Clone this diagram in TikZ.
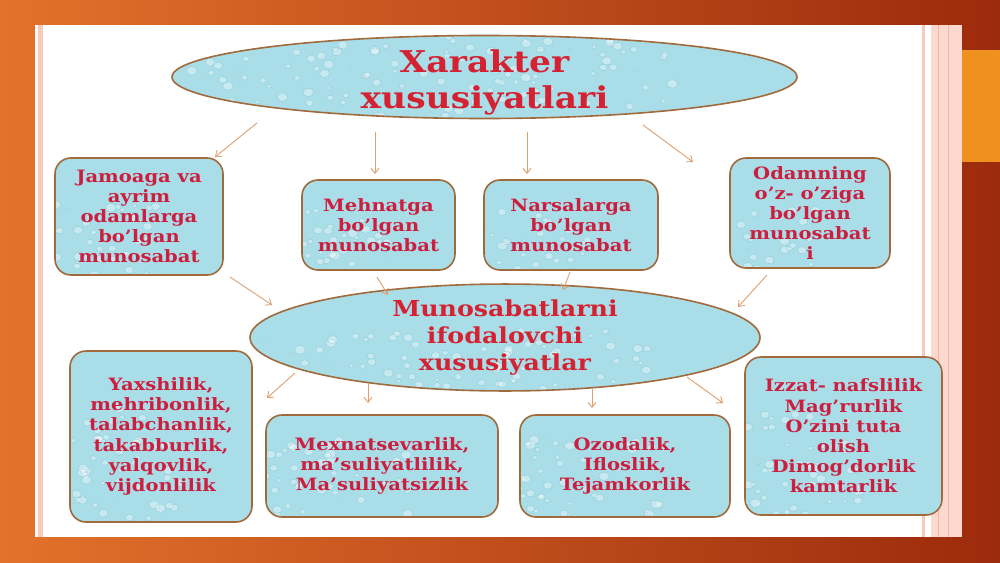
\documentclass[tikz,border=0pt]{standalone}
\usepackage{fontspec}
\setmainfont{DejaVu Serif}[UprightFont=* Bold, FakeStretch=1.15]
\usetikzlibrary{shapes.geometric,arrows.meta}
\definecolor{bgL}{HTML}{E3722C}
\definecolor{bgR}{HTML}{9C2A0C}
\definecolor{pinkA}{HTML}{F6CBBE}
\definecolor{pinkB}{HTML}{FBD9CE}
\definecolor{pinkC}{HTML}{F2B8A6}
\definecolor{orangeR}{HTML}{F0901E}
\definecolor{boxfill}{HTML}{A9DEE8}
\definecolor{boxline}{HTML}{A06A3C}
\definecolor{txtred}{HTML}{CC1F40}
\definecolor{titred}{HTML}{D42232}
\definecolor{arrcol}{HTML}{DDA070}
\definecolor{dropline}{HTML}{6FB9C9}
\newcommand\mydrops[3]{%
  \begin{scope}[shift={(path picture bounding box.center)}]
  \foreach \k in {1,...,#1}{%
    \pgfmathsetmacro\px{(rnd-0.5)*#2}%
    \pgfmathsetmacro\py{(rnd-0.5)*#3}%
    \pgfmathsetmacro\pr{1.5+4*rnd}%
    \fill[white,opacity=0.35] (\px,\py) ellipse ({\pr} and {0.8*\pr});
    \draw[dropline,opacity=0.5,line width=0.4pt] (\px,\py) ellipse ({\pr} and {0.8*\pr});
  }
  \end{scope}}
\begin{document}
\begin{tikzpicture}[x=1pt,y=-1pt,
  box/.style={draw=boxline, line width=1.6pt, fill=boxfill, rounded corners=16pt,
    inner sep=0pt, align=center, text=txtred, font=\fontsize{17}{20.2}\selectfont},
  oval/.style={ellipse, draw=boxline, line width=1.6pt, fill=boxfill, inner sep=0pt,
    align=center, text=titred},
  arr/.style={draw=arrcol, line width=0.9pt, -{Straight Barb[length=5pt,width=8pt]}},
]
\pgfmathsetseed{7}
\useasboundingbox (0,0) rectangle (1000,562);
% background
\shade[left color=bgL, right color=bgR] (0,0) rectangle (1000,562);
\fill[white] (35,25) rectangle (962,537);
\fill[pinkA] (38,25) rectangle (43,537);
\fill[pinkA] (922,25) rectangle (925,537);
\fill[pinkB] (931,25) rectangle (962,537);
\draw[pinkC, line width=1pt] (938,25) -- (938,537);
\draw[pinkC, line width=1pt] (948,25) -- (948,537);
\fill[orangeR] (962,50) rectangle (1000,162);
% nodes
\node[oval, minimum width=625pt, minimum height=83pt, font=\fontsize{30}{36}\selectfont,
  path picture={\mydrops{190}{625}{83}}] (top) at (484.5,77)
  {\raisebox{-31pt}[0pt][0pt]{\begin{tabular}[b]{@{}c@{}}Xarakter\\xususiyatlari\end{tabular}}};
\node[box, minimum width=168pt, minimum height=117pt, path picture={\mydrops{90}{168}{117}}]
  (A) at (139,216.5) {Jamoaga va\\ayrim\\odamlarga\\bo'lgan\\munosabat};
\node[box, minimum width=153pt, minimum height=90pt, path picture={\mydrops{65}{153}{90}}]
  (B) at (378.5,225) {Mehnatga\\bo'lgan\\munosabat};
\node[box, minimum width=174pt, minimum height=90pt, path picture={\mydrops{70}{174}{90}}]
  (C) at (571,225) {Narsalarga\\bo'lgan\\munosabat};
\node[box, minimum width=160pt, minimum height=110pt, path picture={\mydrops{80}{160}{110}}]
  (D) at (810,213) {Odamning\\o'z- o'ziga\\bo'lgan\\munosabat\\i};
\node[oval, minimum width=510pt, minimum height=79pt, font=\fontsize{22}{27}\selectfont,
  path picture={\mydrops{160}{510}{79}}] (mid) at (505,337.5) {Munosabatlarni\\ifodalovchi\\xususiyatlar};
\node[box, minimum width=182pt, minimum height=171pt, path picture={\mydrops{135}{182}{171}}]
  (E) at (161,436.5) {Yaxshilik,\\mehribonlik,\\talabchanlik,\\takabburlik,\\yalqovlik,\\vijdonlilik};
\node[box, minimum width=232pt, minimum height=102pt, path picture={\mydrops{100}{232}{102}}]
  (F) at (382,466) {Mexnatsevarlik,\\ma'suliyatlilik,\\Ma'suliyatsizlik};
\node[box, minimum width=210pt, minimum height=102pt, path picture={\mydrops{95}{210}{102}}]
  (G) at (625,466) {Ozodalik,\\Ifloslik,\\Tejamkorlik};
\node[box, minimum width=197pt, minimum height=158pt, path picture={\mydrops{135}{197}{158}}]
  (H) at (843.5,436) {Izzat- nafslilik\\Mag'rurlik\\O'zini tuta\\olish\\Dimog'dorlik\\kamtarlik};
% connectors
\draw[arr] ([shift={(-227.5,46)}]top.center) -- ([shift={(76,-59.5)}]A.center);
\draw[arr] ([shift={(-109.5,55)}]top.center) -- ([shift={(-3.5,-51)}]B.center);
\draw[arr] ([shift={(42.5,55)}]top.center) -- ([shift={(-44,-51)}]C.center);
\draw[arr] ([shift={(158.5,48)}]top.center) -- ([shift={(-117,-51)}]D.center);
\draw[arr] ([shift={(91,60.5)}]A.center) -- ([shift={(-233,-32.5)}]mid.center);
\draw[arr] ([shift={(-1.5,52)}]B.center) -- ([shift={(-117,-42.5)}]mid.center);
\draw[arr] ([shift={(-1,47)}]C.center) -- ([shift={(58,-47.5)}]mid.center);
\draw[arr] ([shift={(-43,62)}]D.center) -- ([shift={(233,-30.5)}]mid.center);
\draw[arr] ([shift={(-210,35.5)}]mid.center) -- ([shift={(106,-38.5)}]E.center);
\draw[arr] ([shift={(-137,45.5)}]mid.center) -- ([shift={(-14,-63)}]F.center);
\draw[arr] ([shift={(87,50.5)}]mid.center) -- ([shift={(-33,-58)}]G.center);
\draw[arr] ([shift={(182,39.5)}]mid.center) -- ([shift={(-120.5,-33)}]H.center);
\end{tikzpicture}
\end{document}
